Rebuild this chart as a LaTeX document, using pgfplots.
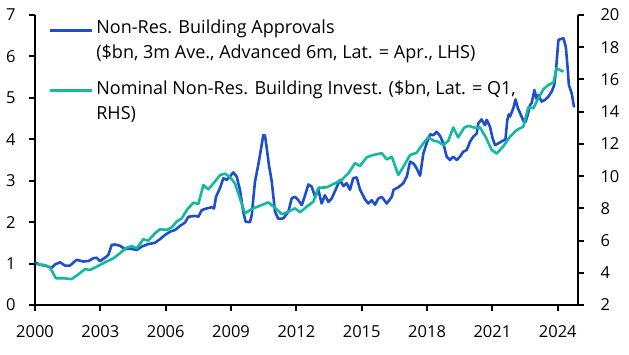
\documentclass[border=0pt]{standalone}
\usepackage{fontspec}
\setmainfont{Open Sans}
\usepackage{pgfplots}
\pgfplotsset{compat=1.18}
\definecolor{ceblue}{RGB}{31,78,204}
\definecolor{ceteal}{RGB}{20,184,160}
\begin{document}
\begin{tikzpicture}[x=1pt,y=1pt]
\useasboundingbox (0,0) rectangle (629,355);
\pgfplotsset{
 common/.style={
  at={(35pt,50pt)}, anchor=south west, scale only axis,
  width=543pt, height=290pt,
  xmin=2000, xmax=2024.93,
  font=\fontsize{16.5}{25}\selectfont,
  /pgf/number format/assume math mode=true,
  /pgf/number format/1000 sep={},
  clip=false,
 },
 lines/.style={
  axis line style={-, line width=2.5pt, black},
  every outer x axis line/.append style={-},
  every outer y axis line/.append style={-},
  tick style={line width=2pt, black},
  major tick length=6pt,
  tick align=outside,
 }}
\begin{axis}[common, axis y line*=left, axis x line*=bottom, lines,
  ymin=0, ymax=7, ytick={0,1,...,7}, xtick={2000,2003,...,2024},
  yticklabel style={xshift=-10pt}, xticklabel style={yshift=-11pt}]
\addplot[ceblue, line width=2.6pt, line join=round] coordinates {
(2000.00,1.03) (2000.23,0.97) (2000.48,0.95) (2000.77,0.90) (2000.92,0.98)
(2001.15,1.03) (2001.38,0.95) (2001.60,0.95) (2001.91,1.09) (2002.22,1.05)
(2002.45,1.06) (2002.68,1.13) (2002.83,1.14) (2002.98,1.06) (2003.21,1.14)
(2003.37,1.21) (2003.52,1.45) (2003.67,1.46) (2003.90,1.43) (2004.13,1.35)
(2004.36,1.36) (2004.67,1.33) (2004.90,1.41) (2005.20,1.47) (2005.50,1.50)
(2005.74,1.59) (2005.97,1.69) (2006.20,1.77) (2006.43,1.81) (2006.66,1.91)
(2006.89,1.99) (2007.04,2.13) (2007.35,2.15) (2007.50,2.13) (2007.65,2.29)
(2007.88,2.33) (2008.11,2.36) (2008.22,2.33) (2008.31,2.61) (2008.49,2.82)
(2008.65,3.06) (2008.80,3.02) (2008.95,3.10) (2009.10,3.20) (2009.26,3.10)
(2009.41,2.78) (2009.56,2.25) (2009.67,2.01) (2009.87,2.00) (2009.95,2.17)
(2010.10,2.98) (2010.25,3.38) (2010.38,3.78) (2010.48,4.10) (2010.56,4.09)
(2010.64,3.78) (2010.74,3.38) (2010.87,2.98) (2011.02,2.25) (2011.17,2.08)
(2011.40,2.09) (2011.63,2.25) (2011.79,2.58) (2011.94,2.61) (2012.09,2.53)
(2012.25,2.41) (2012.40,2.65) (2012.55,2.91) (2012.70,2.86) (2012.86,2.61)
(2013.01,2.78) (2013.16,2.45) (2013.31,2.65) (2013.47,2.49) (2013.62,2.57)
(2013.85,2.84) (2014.00,3.02) (2014.16,2.87) (2014.31,2.94) (2014.46,2.78)
(2014.61,3.06) (2014.77,3.08) (2014.92,2.79) (2015.15,2.55) (2015.30,2.45)
(2015.46,2.53) (2015.61,2.42) (2015.76,2.57) (2015.92,2.61) (2016.15,2.45)
(2016.38,2.61) (2016.46,2.78) (2016.68,2.84) (2016.91,2.94) (2017.07,3.10)
(2017.22,3.46) (2017.37,3.42) (2017.52,3.30) (2017.68,3.12) (2017.83,3.66)
(2017.98,3.90) (2018.14,4.12) (2018.29,4.10) (2018.44,4.18) (2018.60,4.08)
(2018.75,3.90) (2018.90,3.58) (2019.05,3.50) (2019.20,3.58) (2019.36,3.50)
(2019.51,3.58) (2019.66,3.70) (2019.82,3.74) (2019.97,3.94) (2020.12,4.06)
(2020.28,4.14) (2020.35,4.38) (2020.50,4.48) (2020.66,4.34) (2020.74,4.47)
(2020.89,4.30) (2021.01,4.02) (2021.12,3.86) (2021.27,3.90) (2021.43,3.95)
(2021.60,4.00) (2021.68,4.45) (2021.75,4.60) (2021.81,4.55) (2021.96,4.75)
(2022.06,4.96) (2022.17,4.75) (2022.27,4.63) (2022.42,4.45) (2022.52,4.42)
(2022.60,4.55) (2022.73,4.83) (2022.80,4.87) (2022.93,5.19) (2023.04,4.95)
(2023.11,5.07) (2023.26,4.91) (2023.41,4.95) (2023.57,5.03) (2023.72,5.15)
(2023.84,5.31) (2023.92,5.67) (2024.03,6.40) (2024.26,6.44) (2024.37,6.23)
(2024.45,5.75) (2024.51,5.31) (2024.64,5.11) (2024.75,4.77)
};
\end{axis}
\begin{axis}[common, axis y line*=right, axis x line=none, lines,
  ymin=2, ymax=20, ytick={2,4,...,20}, yticklabel style={xshift=13pt},
  legend style={at={(axis description cs:0.025,1.0)}, anchor=north west, yshift=-4pt,
    draw=none, fill=none, inner sep=0pt, row sep=18pt,
    nodes={inner sep=1pt, inner xsep=3pt, align=left, font=\fontsize{18}{25}\selectfont}},
  legend cell align=left,
  legend image code/.code={\draw[#1] (0pt,10pt) -- (42pt,10pt);}]
\addlegendimage{ceblue, line width=2.6pt}
\addlegendentry{Non-Res. Building Approvals\\(\$bn, 3m Ave., Advanced 6m, Lat. = Apr., LHS)}
\addplot[ceteal, line width=2.6pt, line join=round] coordinates {
(2000.08,4.53) (2000.46,4.48) (2000.69,4.32) (2000.96,3.66) (2001.30,3.66)
(2001.68,3.61) (2001.99,3.90) (2002.30,4.23) (2002.53,4.17) (2002.83,4.38)
(2003.21,4.65) (2003.60,4.90) (2003.90,5.21) (2004.21,5.56) (2004.44,5.65)
(2004.67,5.52) (2004.97,6.08) (2005.20,5.99) (2005.51,6.45) (2005.74,6.70)
(2006.05,6.66) (2006.28,6.82) (2006.50,7.17) (2006.74,7.38) (2006.97,7.90)
(2007.27,8.35) (2007.50,8.27) (2007.73,9.45) (2007.96,9.18) (2008.26,9.66)
(2008.50,10.07) (2008.72,10.15) (2008.95,9.95) (2009.18,9.55) (2009.41,8.62)
(2009.64,7.69) (2009.95,7.96) (2010.33,8.16) (2010.71,8.37) (2011.02,8.04)
(2011.33,7.63) (2011.63,7.79) (2011.94,8.00) (2012.17,7.75) (2012.47,8.10)
(2012.78,8.41) (2013.01,9.28) (2013.39,9.30) (2013.77,9.55) (2014.08,9.76)
(2014.39,10.18) (2014.69,10.80) (2014.92,10.63) (2015.23,11.17) (2015.53,11.31)
(2015.92,11.42) (2016.15,11.04) (2016.38,11.20) (2016.68,10.07) (2016.91,10.58)
(2017.22,11.31) (2017.52,11.45) (2017.83,12.04) (2018.06,12.40) (2018.30,12.20)
(2018.50,12.14) (2018.75,11.93) (2018.98,12.20) (2019.20,13.02) (2019.43,12.40)
(2019.70,13.00) (2019.90,13.12) (2020.20,13.00) (2020.43,13.02) (2020.70,12.40)
(2020.97,11.62) (2021.20,11.40) (2021.50,11.85) (2021.81,12.45) (2022.12,12.86)
(2022.42,13.07) (2022.65,14.28) (2022.88,14.21) (2023.11,14.83) (2023.34,15.39)
(2023.57,15.66) (2023.80,15.80) (2023.95,16.69) (2024.10,16.59) (2024.26,16.48)
};
\addlegendentry{Nominal Non-Res. Building Invest. (\$bn, Lat. = Q1,\\RHS)}
\end{axis}
\end{tikzpicture}
\end{document}
